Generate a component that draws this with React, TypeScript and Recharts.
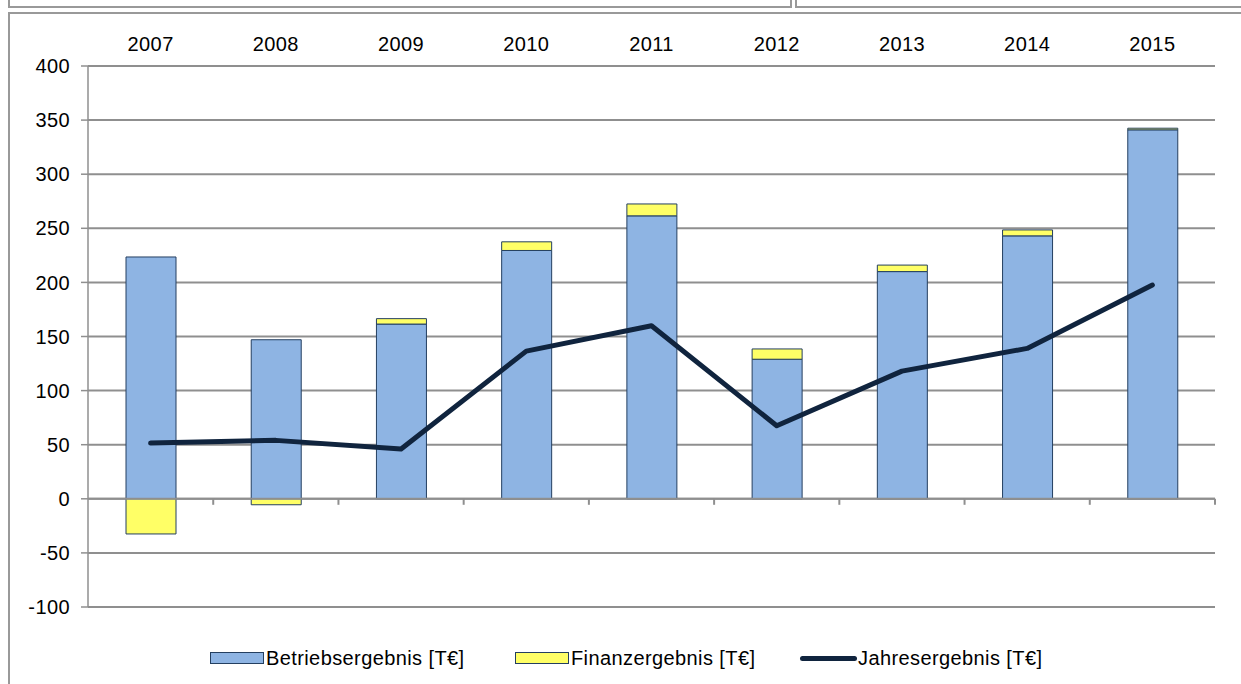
import {
  Bar,
  CartesianGrid,
  ComposedChart,
  Line,
  ReferenceLine,
  XAxis,
  YAxis
} from "recharts";

const years = ["2007", "2008", "2009", "2010", "2011", "2012", "2013", "2014", "2015"];
const betriebsergebnis = [223.5, 147, 161.5, 229.5, 261.5, 129, 210, 243, 341];
const finanzergebnis = [-32.5, -5.5, 5, 8, 11, 9.5, 6, 5.5, 1.5];
const jahresergebnis = [51.5, 54, 46, 136.5, 160, 67.5, 118, 139, 197.5];
const yTicks = [-100, -50, 0, 50, 100, 150, 200, 250, 300, 350, 400];
const yDomain = [-100, 400];

const data = years.map((year, i) => ({
  year,
  betrieb: betriebsergebnis[i],
  finanz: finanzergebnis[i],
  jahres: jahresergebnis[i]
}));

const FONT = "Arial, 'Liberation Sans', sans-serif";
const GRID = "#8f8f8f";
const BLUE = "#8eb4e3";
const YELLOW = "#ffff66";
const NAVY = "#10243e";
const OUTLINE = "#243f60";

const WIDTH = 1241;
const HEIGHT = 684;
const MARGIN = { top: 36, right: 26, bottom: 77, left: 28 };
const X_AXIS_H = 30;
const plotTop = MARGIN.top + X_AXIS_H;
const plotH = HEIGHT - plotTop - MARGIN.bottom;
// pixel y of the zero line, from the value domain
const zeroY = plotTop + (plotH * (yDomain[1] - 0)) / (yDomain[1] - yDomain[0]);

const textStyle = { fontFamily: FONT, fontSize: 20, letterSpacing: 0.4, fill: "#000" };

const legendItems = [
  { label: "Betriebsergebnis [T€]", kind: "bar", color: BLUE, left: 210 },
  { label: "Finanzergebnis [T€]", kind: "bar", color: YELLOW, left: 515 },
  { label: "Jahresergebnis [T€]", kind: "line", color: NAVY, left: 800 }
];

// year label on top + small tick on the zero line at the right edge of the category
function YearTick(props: any) {
  const { x, y, payload } = props;
  const half = payload?.offset ?? 0;
  return (
    <g>
      <text x={x} y={y - 7} textAnchor="middle" {...textStyle}>
        {payload.value}
      </text>
      <line x1={x + half} x2={x + half} y1={zeroY} y2={zeroY + 6} stroke={GRID} strokeWidth={2} />
    </g>
  );
}

export default function App() {
  return (
    <div
      style={{
        position: "absolute",
        left: 0,
        top: 0,
        width: WIDTH,
        height: HEIGHT,
        overflow: "hidden",
        background: "#fff",
        fontFamily: FONT
      }}
    >
      {/* frames of the neighbouring boxes */}
      <div style={{ position: "absolute", left: 8, top: -10, width: 780, height: 14, border: "2px solid #999" }} />
      <div style={{ position: "absolute", left: 795, top: -10, width: 600, height: 14, border: "2px solid #999" }} />
      <div style={{ position: "absolute", left: 8, top: 12, width: 1400, height: 800, border: "2px solid #999" }} />

      <div style={{ position: "absolute", left: 0, top: 0 }}>
        <ComposedChart width={WIDTH} height={HEIGHT} data={data} stackOffset="sign" margin={MARGIN}>
          <CartesianGrid horizontal vertical={false} stroke={GRID} strokeWidth={2} />
          <XAxis
            dataKey="year"
            orientation="top"
            height={X_AXIS_H}
            axisLine={false}
            tickLine={false}
            tick={<YearTick />}
            interval={0}
          />
          <YAxis
            domain={yDomain}
            ticks={yTicks}
            width={60}
            interval={0}
            axisLine={{ stroke: GRID, strokeWidth: 1.5 }}
            tickLine={{ stroke: GRID, strokeWidth: 1.5 }}
            tickSize={7}
            tickMargin={11}
            tick={textStyle}
          />
          <ReferenceLine y={0} stroke={GRID} strokeWidth={2} />
          <Bar
            dataKey="betrieb"
            stackId="s"
            barSize={50}
            fill={BLUE}
            stroke={OUTLINE}
            strokeWidth={1}
            isAnimationActive={false}
          />
          <Bar
            dataKey="finanz"
            stackId="s"
            barSize={50}
            fill={YELLOW}
            stroke={OUTLINE}
            strokeWidth={1}
            isAnimationActive={false}
          />
          <Line
            dataKey="jahres"
            type="linear"
            stroke={NAVY}
            strokeWidth={5}
            strokeLinecap="round"
            strokeLinejoin="round"
            dot={false}
            activeDot={false}
            isAnimationActive={false}
          />
        </ComposedChart>
      </div>

      {legendItems.map((item) => (
        <div
          key={item.label}
          style={{
            position: "absolute",
            left: item.left,
            top: 646,
            height: 24,
            display: "flex",
            alignItems: "center",
            fontSize: 20,
            letterSpacing: 0.4,
            color: "#000",
            whiteSpace: "nowrap"
          }}
        >
          {item.kind === "bar" ? (
            <span
              style={{
                display: "inline-block",
                width: 52,
                height: 10,
                background: item.color,
                border: `1px solid ${OUTLINE}`,
                marginRight: 2
              }}
            />
          ) : (
            <span
              style={{
                display: "inline-block",
                width: 57,
                height: 5,
                background: item.color,
                borderRadius: 3,
                marginRight: 1
              }}
            />
          )}
          {item.label}
        </div>
      ))}
    </div>
  );
}
